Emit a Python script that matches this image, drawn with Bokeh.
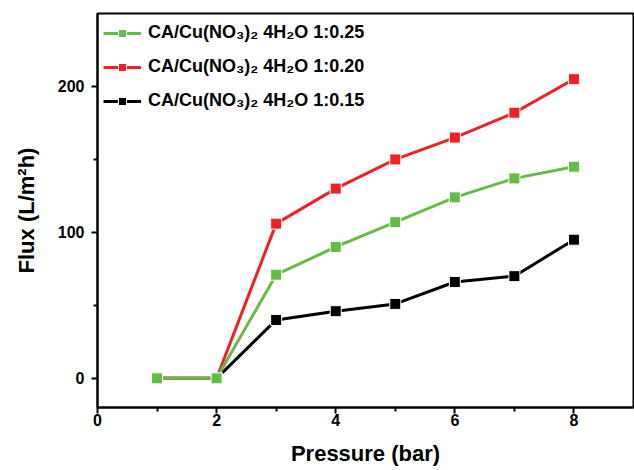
from bokeh.plotting import figure
from bokeh.models import FixedTicker, Legend, LegendItem, Range1d
from bokeh.embed import file_html
from bokeh.resources import INLINE

pressure = [1, 2, 3, 4, 5, 6, 7, 8]
flux_025 = [0, 0, 71, 90, 107, 124, 137, 145]
flux_020 = [0, 0, 106, 130, 150, 165, 182, 205]
flux_015 = [0, 0, 40, 46, 51, 66, 70, 95]

labels = ["CA/Cu(NO₃)₂ 4H₂O 1:0.25",
          "CA/Cu(NO₃)₂ 4H₂O 1:0.20",
          "CA/Cu(NO₃)₂ 4H₂O 1:0.15"]
colors = ["#66bb46", "#ee2125", "#000000"]

x_ticks = [0, 2, 4, 6, 8]
x_minor = [1, 3, 5, 7]
y_ticks = [0, 100, 200]
y_minor = [50, 150]

FONT = "Liberation Sans"

p = figure(width=634, height=470, output_backend="svg", toolbar_location=None,
           x_range=Range1d(0, 9), y_range=Range1d(-20, 250),
           min_border_left=97, min_border_right=1, min_border_top=13, min_border_bottom=63)
p.grid.visible = False
p.outline_line_color = "black"
p.outline_line_width = 2
p.background_fill_color = "white"

for ax in (p.xaxis[0], p.yaxis[0]):
    ax.axis_line_width = 2
    ax.major_tick_line_width = 2
    ax.minor_tick_line_width = 2
    ax.major_tick_in = 0
    ax.major_tick_out = 6
    ax.minor_tick_in = 0
    ax.minor_tick_out = 4
    ax.major_label_text_font = FONT
    ax.major_label_text_font_style = "bold"
    ax.major_label_text_font_size = "16px"
    ax.major_label_text_color = "black"
    ax.axis_label_text_font = FONT
    ax.axis_label_text_font_style = "bold"
    ax.axis_label_text_font_size = "22px"
    ax.axis_label_text_color = "black"

p.xaxis.ticker = FixedTicker(ticks=x_ticks, minor_ticks=x_minor)
p.yaxis.ticker = FixedTicker(ticks=y_ticks, minor_ticks=y_minor)
p.xaxis.major_label_standoff = 0
p.yaxis.major_label_standoff = 7
p.xaxis.axis_label = "Pressure (bar)"
p.yaxis.axis_label = "Flux (L/m²h)"
p.xaxis.axis_label_standoff = 12
p.yaxis.axis_label_standoff = 16

series = [flux_025, flux_020, flux_015]
items = []
renders = []
for lab, col, ys in zip(labels, colors, series):
    ln = p.line(pressure, ys, line_color=col, line_width=3)
    sc = p.scatter(pressure, ys, marker="square", size=11, fill_color=col,
                   line_color="white", line_width=1)
    renders.append((ln, sc))
    items.append(LegendItem(label=lab, renderers=[ln, sc]))

# draw green on top (as in the reference at x=1,2)
p.renderers = [r for pair in renders[::-1] for r in pair]

legend = Legend(items=items, location="top_left", margin=6, padding=10,
                spacing=7, glyph_width=38, glyph_height=20, label_height=27,
                label_standoff=7, border_line_color=None,
                background_fill_alpha=0,
                label_text_font=FONT, label_text_font_style="bold",
                label_text_font_size="18px", label_text_color="black")
p.add_layout(legend)

open("out.html", "w").write(file_html(p, INLINE))
